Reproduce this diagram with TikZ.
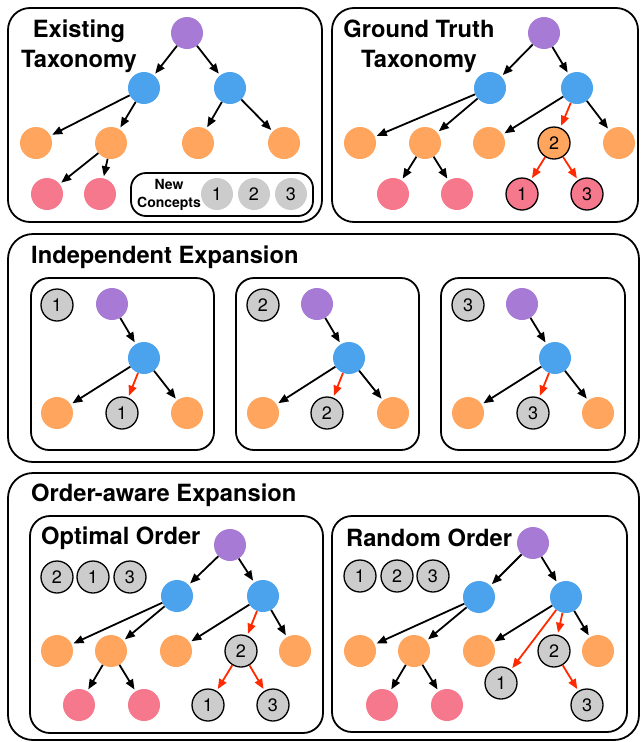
\documentclass[tikz,border=0pt]{standalone}
\usepackage{fontspec}
\setmainfont{TeX Gyre Heros}
\usetikzlibrary{arrows.meta}

\definecolor{viola}{HTML}{A77BD5}
\definecolor{azzurro}{HTML}{4BA3EE}
\definecolor{arancio}{HTML}{FFA55E}
\definecolor{rosa}{HTML}{F6788D}
\definecolor{grigio}{HTML}{CCCCCC}
\definecolor{rosso}{HTML}{FF2A00}

\begin{document}
\begin{tikzpicture}[x=1pt, y=-1pt, >={Triangle[length=10pt,width=8pt]},
		nodo/.style={circle, minimum size=32pt, inner sep=0pt, font=\fontsize{18}{18}\selectfont},
		radice/.style={nodo, fill=viola},
		inter/.style={nodo, fill=azzurro},
		foglia/.style={nodo, fill=arancio},
		fondo/.style={nodo, fill=rosa},
		nuovo/.style={nodo, fill=grigio, draw=black, line width=1.3pt},
		freccia/.style={->, line width=1.8pt, shorten >=2pt},
		rossa/.style={freccia, draw=rosso},
		riquadro/.style={draw, line width=1.8pt, rounded corners=#1},
		riquadro/.default=18pt,
		titolo/.style={inner sep=0pt, font=\bfseries\fontsize{23.7}{30}\selectfont}]
	\useasboundingbox (0, 0) rectangle (642, 742);

	% riquadri
	\draw[riquadro=22pt] (8, 8) rectangle (322, 222);
	\draw[riquadro=22pt] (332, 8) rectangle (638, 222);
	\draw[riquadro=25pt] (8, 234) rectangle (639, 462);
	\draw[riquadro] (31, 278) rectangle (214, 450);
	\draw[riquadro] (236, 278) rectangle (419, 450);
	\draw[riquadro] (441, 278) rectangle (625, 450);
	\draw[riquadro=25pt] (8, 473) rectangle (639, 740);
	\draw[riquadro=20pt] (30, 516) rectangle (323, 733);
	\draw[riquadro=20pt] (332, 516) rectangle (627, 732);
	\draw[riquadro=15pt] (131, 173) rectangle (313, 216);

	% titoli
	\node[titolo, align=center] (tA) at (79, 46) {Existing\\Taxonomy};
	\node[titolo, align=center] (tG) at (419, 46) {Ground Truth\\Taxonomy};
	\node[titolo, anchor=west] (tI) at (31, 257) {Independent Expansion};
	\node[titolo, anchor=west] (tO) at (31, 495) {Order-aware Expansion};
	\node[titolo, anchor=west] (tOo) at (41, 538) {Optimal Order};
	\node[titolo, anchor=west] (tOr) at (346, 538) {Random Order};
	\node[inner sep=0pt, align=center, font=\bfseries\fontsize{14}{18}\selectfont] (nc) at (169, 195) {New\\Concepts};

	% tassonomia esistente
	\node[radice] (aR) at (187, 33) {};
	\node[inter] (aB1) at (144, 88) {};
	\node[inter] (aB2) at (230, 88) {};
	\node[foglia] (aO1) at (36, 143) {};
	\node[foglia] (aO2) at (111, 143) {};
	\node[foglia] (aO3) at (198, 143) {};
	\node[foglia] (aO4) at (284, 143) {};
	\node[fondo] (aP1) at (47, 194) {};
	\node[fondo] (aP2) at (100, 194) {};
	\node[nodo, fill=grigio] (n1) at (217, 194) {1};
	\node[nodo, fill=grigio] (n2) at (254, 194) {2};
	\node[nodo, fill=grigio] (n3) at (291, 194) {3};
	\draw[freccia] (aR) -- (aB1);
	\draw[freccia] (aR) -- (aB2);
	\draw[freccia] (aB1) -- (aO1);
	\draw[freccia] (aB1) -- (aO2);
	\draw[freccia] (aB2) -- (aO3);
	\draw[freccia] (aB2) -- (aO4);
	\draw[freccia] (aO2) -- (aP1);
	\draw[freccia] (aO2) -- (aP2);

	% tassonomia vera
	\node[radice] (gR) at (544, 33) {};
	\node[inter] (gB1) at (490, 88) {};
	\node[inter] (gB2) at (577, 88) {};
	\node[foglia] (gO1) at (360, 143) {};
	\node[foglia] (gO2) at (425, 143) {};
	\node[foglia] (gO3) at (489, 143) {};
	\node[foglia, draw=black, line width=1.3pt] (g2) at (554, 143) {2};
	\node[foglia] (gO4) at (619, 143) {};
	\node[fondo] (gP1) at (393, 194) {};
	\node[fondo] (gP2) at (457, 194) {};
	\node[fondo, draw=black, line width=1.3pt] (g1) at (522, 194) {1};
	\node[fondo, draw=black, line width=1.3pt] (g3) at (587, 194) {3};
	\draw[freccia] (gR) -- (gB1);
	\draw[freccia] (gR) -- (gB2);
	\draw[freccia] (gB1) -- (gO1);
	\draw[freccia] (gB1) -- (gO2);
	\draw[freccia] (gB2) -- (gO3);
	\draw[rossa] (gB2) -- (g2);
	\draw[freccia] (gB2) -- (gO4);
	\draw[freccia] (gO2) -- (gP1);
	\draw[freccia] (gO2) -- (gP2);
	\draw[rossa] (g2) -- (g1);
	\draw[rossa] (g2) -- (g3);

	% espansione indipendente
	\node[nuovo] (i1) at (57, 305) {1};
	\node[radice] (i1R) at (112, 304) {};
	\node[inter] (i1B) at (144, 358) {};
	\node[foglia] (i1O1) at (57, 413) {};
	\node[nuovo] (i1N) at (122, 413) {1};
	\node[foglia] (i1O2) at (187, 413) {};
	\draw[freccia] (i1R) -- (i1B);
	\draw[freccia] (i1B) -- (i1O1);
	\draw[rossa] (i1B) -- (i1N);
	\draw[freccia] (i1B) -- (i1O2);

	\node[nuovo] (i2) at (263, 305) {2};
	\node[radice] (i2R) at (317, 304) {};
	\node[inter] (i2B) at (349, 358) {};
	\node[foglia] (i2O1) at (263, 413) {};
	\node[nuovo] (i2N) at (327, 413) {2};
	\node[foglia] (i2O2) at (393, 413) {};
	\draw[freccia] (i2R) -- (i2B);
	\draw[freccia] (i2B) -- (i2O1);
	\draw[rossa] (i2B) -- (i2N);
	\draw[freccia] (i2B) -- (i2O2);

	\node[nuovo] (i3) at (468, 305) {3};
	\node[radice] (i3R) at (522, 304) {};
	\node[inter] (i3B) at (555, 358) {};
	\node[foglia] (i3O1) at (468, 413) {};
	\node[nuovo] (i3N) at (533, 413) {3};
	\node[foglia] (i3O2) at (598, 413) {};
	\draw[freccia] (i3R) -- (i3B);
	\draw[freccia] (i3B) -- (i3O1);
	\draw[rossa] (i3B) -- (i3N);
	\draw[freccia] (i3B) -- (i3O2);

	% ordine ottimale
	\node[nuovo] (q1) at (57, 577) {2};
	\node[nuovo] (q2) at (93, 577) {1};
	\node[nuovo] (q3) at (130, 577) {3};
	\node[radice] (oR) at (230, 545) {};
	\node[inter] (oB1) at (177, 596) {};
	\node[inter] (oB2) at (263, 596) {};
	\node[foglia] (oO1) at (57, 651) {};
	\node[foglia] (oO2) at (111, 651) {};
	\node[foglia] (oO3) at (176, 651) {};
	\node[nuovo] (o2) at (241, 651) {2};
	\node[foglia] (oO4) at (295, 651) {};
	\node[fondo] (oP1) at (79, 705) {};
	\node[fondo] (oP2) at (144, 705) {};
	\node[nuovo] (o1) at (208, 705) {1};
	\node[nuovo] (o3) at (273, 705) {3};
	\draw[freccia] (oR) -- (oB1);
	\draw[freccia] (oR) -- (oB2);
	\draw[freccia] (oB1) -- (oO1);
	\draw[freccia] (oB1) -- (oO2);
	\draw[freccia] (oB2) -- (oO3);
	\draw[rossa] (oB2) -- (o2);
	\draw[freccia] (oB2) -- (oO4);
	\draw[freccia] (oO2) -- (oP1);
	\draw[freccia] (oO2) -- (oP2);
	\draw[rossa] (o2) -- (o1);
	\draw[rossa] (o2) -- (o3);

	% ordine casuale
	\node[nuovo] (s1) at (360, 576) {1};
	\node[nuovo] (s2) at (397, 576) {2};
	\node[nuovo] (s3) at (433, 576) {3};
	\node[radice] (rR) at (533, 543) {};
	\node[inter] (rB1) at (479, 597) {};
	\node[inter] (rB2) at (566, 597) {};
	\node[foglia] (rO1) at (360, 651) {};
	\node[foglia] (rO2) at (414, 651) {};
	\node[foglia] (rO3) at (479, 651) {};
	\node[nuovo] (r2) at (554, 651) {2};
	\node[foglia] (rO4) at (598, 651) {};
	\node[fondo] (rP1) at (382, 705) {};
	\node[fondo] (rP2) at (447, 705) {};
	\node[nuovo] (r1) at (501, 683) {1};
	\node[nuovo] (r3) at (587, 705) {3};
	\draw[freccia] (rR) -- (rB1);
	\draw[freccia] (rR) -- (rB2);
	\draw[freccia] (rB1) -- (rO1);
	\draw[freccia] (rB1) -- (rO2);
	\draw[freccia] (rB2) -- (rO3);
	\draw[rossa] (rB2) -- (r1);
	\draw[rossa] (rB2) -- (r2);
	\draw[freccia] (rB2) -- (rO4);
	\draw[freccia] (rO2) -- (rP1);
	\draw[freccia] (rO2) -- (rP2);
	\draw[rossa] (r2) -- (r3);
\end{tikzpicture}
\end{document}
